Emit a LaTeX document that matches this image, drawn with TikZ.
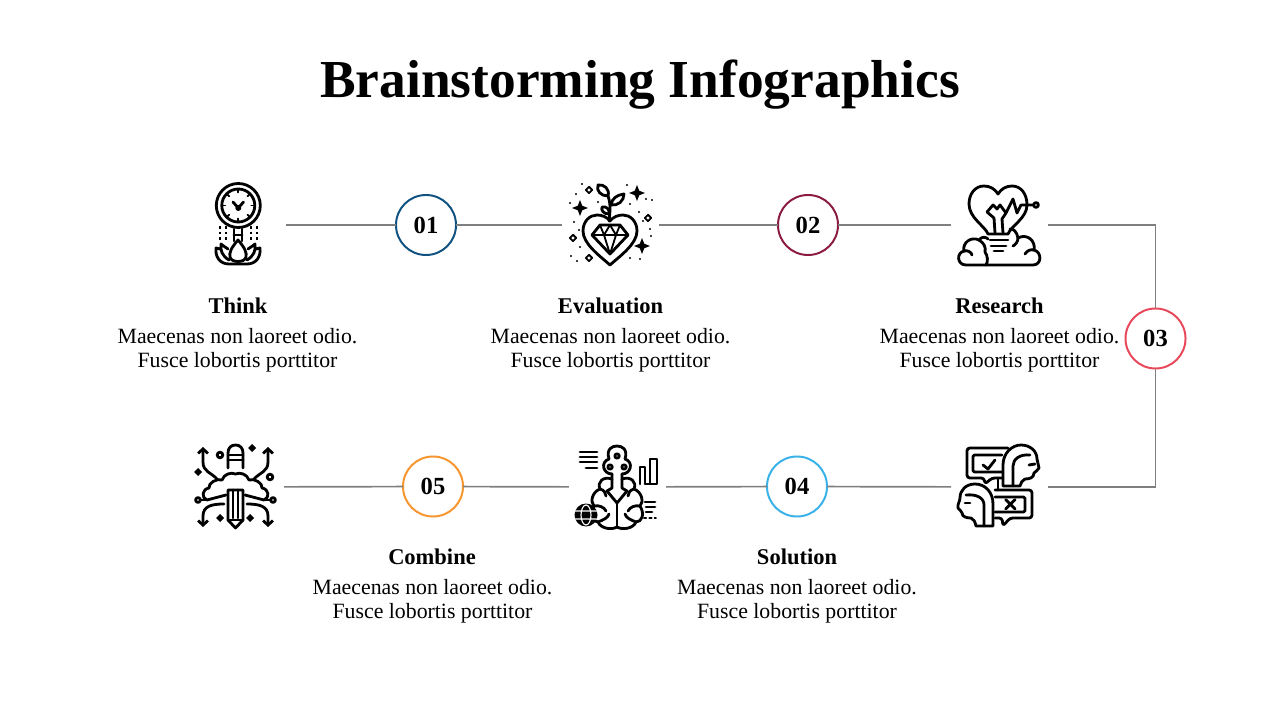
\documentclass[tikz,border=0pt]{standalone}
\usepackage{fontspec}
\setmainfont{Liberation Serif}
\usepackage{xcolor}
\definecolor{stepone}{RGB}{15,82,130}
\definecolor{steptwo}{RGB}{139,26,66}
\definecolor{stepthree}{RGB}{232,72,90}
\definecolor{stepfour}{RGB}{56,178,232}
\definecolor{stepfive}{RGB}{247,150,46}
\definecolor{wire}{RGB}{127,127,127}
\usepackage{tikz}
\usetikzlibrary{arrows.meta}
\newcommand{\sparkle}[3]{\fill[shift={(#1,#2)},scale=#3] (0,-1) -- (.28,-.28) -- (1,0) -- (.28,.28) -- (0,1) -- (-.28,.28) -- (-1,0) -- (-.28,-.28) -- cycle;}

\begin{document}
\begin{tikzpicture}[
        x=0.025cm, y=-0.025cm,
        numnode/.style={circle, draw=#1, line width=1.4pt, fill=white, minimum size=1.5cm, inner sep=0pt, outer sep=0pt, font=\fontsize{17.5}{18}\selectfont\bfseries},
        slot/.style={rectangle, minimum width=2.425cm, minimum height=2.4cm, inner sep=0pt, outer sep=0pt},
        headline/.style={align=center, font=\fontsize{38}{40}\selectfont\bfseries},
        label/.style={align=center, font=\fontsize{16}{18}\selectfont\bfseries},
        body/.style={align=center, font=\fontsize{15.5}{17}\selectfont},
        wired/.style={color=wire, line width=1.2pt},
        icon/.style={draw=black, line width=2pt, line cap=round, line join=round},
        fine/.style={draw=black, line width=1.3pt, line cap=round, line join=round},
        tipped/.style={icon, -{Straight Barb[length=3.2pt,width=7pt]}}
    ]
        \useasboundingbox (0,0) rectangle (1280,720);
        \fill[white] (0,0) rectangle (1280,720);

        \node[headline] (title) at (640,85) {Brainstorming Infographics};

        % icon slots and numbers
        \node[slot] (think) at (237.5,225) {};
        \node[slot] (evaluation) at (610.5,225) {};
        \node[slot] (research) at (999.5,225) {};
        \node[slot] (solution) at (999.5,487) {};
        \node[slot] (brain) at (617.5,487) {};
        \node[slot] (combine) at (235.5,487) {};
        \node[numnode=stepone] (n1) at (426,225) {01};
        \node[numnode=steptwo] (n2) at (808,225) {02};
        \node[numnode=stepthree] (n3) at (1155.5,338.5) {03};
        \node[numnode=stepfour] (n4) at (797,486.5) {04};
        \node[numnode=stepfive] (n5) at (433,486.5) {05};

        \draw[wired] (think) -- (n1);
        \draw[wired] (n1) -- (evaluation);
        \draw[wired] (evaluation) -- (n2);
        \draw[wired] (n2) -- (research);
        \draw[wired] (research) -| (n3);
        \draw[wired] (n3) |- (solution);
        \draw[wired] (solution) -- (n4);
        \draw[wired] (n4) -- (brain);
        \draw[wired] (brain) -- (n5);
        \draw[wired] (n5) -- (combine);

        % texts
        \node[label] (l1) at (238,305.5) {Think};
        \node[body] (b1) at (237.5,350.5) {Maecenas non laoreet odio.\\Fusce lobortis porttitor};
        \node[label] (l2) at (610.5,305.5) {Evaluation};
        \node[body] (b2) at (610.5,350.5) {Maecenas non laoreet odio.\\Fusce lobortis porttitor};
        \node[label] (l3) at (999.5,305.5) {Research};
        \node[body] (b3) at (999.5,350.5) {Maecenas non laoreet odio.\\Fusce lobortis porttitor};
        \node[label] (l4) at (797,556.5) {Solution};
        \node[body] (b4) at (797,601.5) {Maecenas non laoreet odio.\\Fusce lobortis porttitor};
        \node[label] (l5) at (432,556.5) {Combine};
        \node[body] (b5) at (432.5,601.5) {Maecenas non laoreet odio.\\Fusce lobortis porttitor};

        % clock and lotus
        \draw[icon] (238.3,205.5) circle (22);
        \draw[icon] (238.3,205.5) circle (16.5);
        \foreach \a in {0,45,...,315} \draw[fine] (238.3,205.5) ++(\a:13) -- ++(\a:3);
        \draw[icon] (233,202) -- (238.3,208) -- (243.5,202);
        \fill (238.3,208) circle (3);
        \draw[icon] (234,229) -- (234,241) (242,229) -- (242,241) (234,235) -- (242,235);
        \foreach \x in {220,226,251,257} \draw[draw=black, line width=1.8pt, dash pattern=on 1.8pt off 2.2pt] (\x,226) -- (\x,241);
        \draw[icon] (238,240) .. controls (231,248) and (229,253) .. (230,257) .. controls (231,263) and (245,263) .. (246,257) .. controls (247,253) and (245,248) .. (238,240) -- cycle;
        \draw[icon] (228,249) .. controls (225,247) and (222,245) .. (221,244) .. controls (220,250) and (222,256) .. (229,260);
        \draw[icon] (248,249) .. controls (251,247) and (254,245) .. (255,244) .. controls (256,250) and (254,256) .. (247,260);
        \draw[icon] (220,249) -- (216,248) .. controls (215,257) and (220,264) .. (229,264) -- (247,264) .. controls (256,264) and (261,257) .. (260,248) -- (256,249);

        % heart with gem
        \draw[icon] (610,265) .. controls (600,256) and (583,244) .. (583,231) .. controls (583,221) and (590,215) .. (597,215) .. controls (602,215) and (607,217) .. (610,221) .. controls (613,217) and (618,215) .. (623,215) .. controls (630,215) and (637,221) .. (637,231) .. controls (637,244) and (620,256) .. (610,265) -- cycle;
        \draw[icon] (600,225) -- (620,225) -- (628,235) -- (610,254) -- (592,235) -- cycle;
        \draw[fine] (592,235) -- (628,235) (604,235) -- (610,254) -- (616,235) (600,225) -- (604,235) -- (610,225) -- (616,235) -- (620,225);
        \draw[icon] (609,221) .. controls (610,212) and (611,204) .. (608,196);
        \draw[icon] (608,196) .. controls (601,196) and (596,191) .. (598,185) .. controls (604,184) and (610,189) .. (608,196);
        \draw[icon] (611,205) .. controls (612,198) and (617,195) .. (624,194) .. controls (624,201) and (618,206) .. (611,205);
        \draw[icon] (609,214) .. controls (603,214) and (601,210) .. (602,207) .. controls (606,206) and (610,209) .. (609,214);
        \sparkle{637}{193}{8}
        \sparkle{580}{208}{8}
        \sparkle{642}{246}{8}
        \foreach \x/\y in {589/190,648/218,573/238,589/258}
            \draw[fine] (\x,\y) ++(0,-3.2) -- ++(3.2,3.2) -- ++(-3.2,3.2) -- ++(-3.2,-3.2) -- cycle;
        \foreach \x/\y in {582/184,576/194,570/203,598/202,627/185,646/199,630/204,652/200,639/212,643/221,650/229,574/222,579/230,580/247,571/256,577/261,630/258,640/259,651/236,636/225}
            \fill (\x,\y) circle (1.2);

        % bulb heart over cloud
        \draw[icon] (988,234) .. controls (985,226) and (969,218) .. (969,204) .. controls (969,194) and (975,186) .. (984,186) .. controls (990,186) and (995,189) .. (998,194) .. controls (1001,189) and (1006,186) .. (1012,186) .. controls (1021,186) and (1027,194) .. (1027,205) .. controls (1027,218) and (1011,226) .. (1008,234) -- cycle;
        \draw[icon] (990,240) -- (1008,240) (991,246) -- (1006,246) (994,251) -- (1003,251);
        \draw[icon] (995,233) -- (994,218) -- (987,212) -- (993,205) -- (997,209) -- (1000,205) -- (1006,213) -- (1002,219) -- (1003,233);
        \draw[icon] (1006,213) -- (1013,199) -- (1017,213) -- (1021,205) -- (1033,205);
        \draw[icon] (1036,205) circle (2.4);
        \draw[icon] (986,265) -- (966,265) .. controls (957,265) and (956,253) .. (964,251) .. controls (962,243) and (971,236) .. (979,240) .. controls (982,236) and (986,237) .. (988,239);
        \draw[icon] (979,240) .. controls (984,243) and (986,247) .. (985,252);
        \draw[icon] (964,251) .. controls (968,250) and (971,252) .. (972,255);
        \draw[icon] (985,252) .. controls (988,256) and (988,262) .. (986,265) -- (1033,265) .. controls (1042,265) and (1042,252) .. (1034,250) .. controls (1036,241) and (1027,233) .. (1018,238) .. controls (1017,232) and (1013,228) .. (1010,229);
        \draw[icon] (1018,238) .. controls (1018,242) and (1015,245) .. (1013,246);
        \draw[icon] (1034,250) .. controls (1030,249) and (1027,251) .. (1025,254);

        % two heads talking
        \draw[icon, rounded corners=2pt] (1008,448) -- (967,448) -- (967,478) -- (984,478) -- (985,484) -- (992,478) -- (1003,478);
        \draw[icon, rounded corners=1pt] (1002,455) -- (973,455) -- (973,472) -- (1002,472);
        \draw[icon] (983,465) -- (988,469) -- (995,460);
        \draw[icon] (1003,486) -- (1003,465) .. controls (1003,453) and (1012,445) .. (1021,445) .. controls (1030,445) and (1037,451) .. (1037,459) .. controls (1037,462) and (1039,465) .. (1039,468) .. controls (1038,471) and (1035,471) .. (1034,473) .. controls (1034,478) and (1029,479) .. (1025,479) .. controls (1022,480) and (1021,483) .. (1020,486) -- cycle;
        \draw[icon] (1013,486) -- (1013,466) .. controls (1013,459) and (1020,454) .. (1030,455);
        \draw[icon] (1029,465) -- (1035,464);
        \draw[icon] (998,478) -- (998,490);
        \draw[icon, rounded corners=2pt] (995,490) -- (1032,490) -- (1032,518) -- (1010,518) -- (1003,526) -- (1002,518) -- (995,518);
        \draw[icon, rounded corners=1pt] (995,497) -- (1025,497) -- (1025,512) -- (995,512);
        \draw[icon] (1005.5,499.5) -- (1015,509) (1015,499.5) -- (1005.5,509);
        \draw[icon] (993,526) -- (993,504) .. controls (993,492) and (985,484) .. (975,484) .. controls (966,484) and (960,490) .. (960,498) .. controls (960,501) and (957,505) .. (958,508) .. controls (959,510) and (962,511) .. (962,513) .. controls (962,517) and (967,518) .. (971,518) .. controls (974,519) and (975,522) .. (976,526) -- cycle;
        \draw[icon] (984,526) -- (984,505) .. controls (984,498) and (977,494) .. (966,495);
        \draw[icon] (965,503) -- (970,503);

        % brain with key
        \foreach \y/\a/\b in {452/580/597,457/580/597,462/580/597,468/586/597} \draw[icon] (\a,\y) -- (\b,\y);
        \draw[icon] (612,474) .. controls (603,474) and (600,462) .. (609,459) .. controls (606,449) and (612,446) .. (617,446) .. controls (622,446) and (628,449) .. (625,459) .. controls (634,462) and (631,474) .. (622,474);
        \draw[icon] (617,456) circle (2.2) (610,467) circle (2.2) (624,467) circle (2.2);
        \draw[icon] (612,474) -- (612,488) -- (607,491) -- (612,497) -- (617,503) -- (622,497) -- (627,491) -- (622,488) -- (622,474);
        \draw[icon] (617,503) -- (617,527);
        \draw[icon] (612,479) .. controls (603,476) and (597,482) .. (600,489) .. controls (592,492) and (590,502) .. (594,506) .. controls (589,514) and (592,522) .. (598,522) .. controls (601,529) and (612,530) .. (617,527) .. controls (622,530) and (633,529) .. (636,522) .. controls (642,522) and (645,514) .. (640,506) .. controls (644,502) and (642,492) .. (634,489) .. controls (637,482) and (631,476) .. (622,479);
        \draw[icon] (600,489) .. controls (604,490) and (606,493) .. (606,496);
        \draw[icon] (634,489) .. controls (630,490) and (628,493) .. (628,496);
        \draw[icon] (594,506) .. controls (599,505) and (604,507) .. (606,511);
        \draw[icon] (640,506) .. controls (635,505) and (630,507) .. (628,511);
        \draw[icon] (598,522) .. controls (603,520) and (608,518) .. (609,514);
        \draw[icon] (636,522) .. controls (631,520) and (626,518) .. (625,514);
        \draw[icon] (640,484) -- (640,467) -- (645,467) -- (645,484) -- (650,484) -- (650,459) -- (657,459) -- (657,484) -- (645,484);
        \draw[icon] (645,502) -- (655,502) (646,507) -- (655,507) (646,512) -- (652,512);
        \draw[fine, dash pattern=on 1.6pt off 2.2pt] (644,518) -- (656,518);
        \fill[black] (586,515) circle (11.5);
        \draw[white, line width=.8pt] (586,515) ellipse (5 and 10) (575,511) -- (597,511) (575,519) -- (597,519);

        % brain with pencil and arrows
        \draw[icon] (228,468) -- (228,453) .. controls (228,448) and (231,445) .. (235.5,445) .. controls (240,445) and (243,448) .. (243,453) -- (243,468);
        \draw[icon] (228,455) -- (243,455) (228,460) -- (243,460);
        \draw[icon] (226,495) -- (207,500) .. controls (201,498) and (202,489) .. (209,488) .. controls (208,483) and (217,478) .. (222,480) .. controls (224,474) and (231,472) .. (235.5,474) .. controls (240,472) and (247,474) .. (249,480) .. controls (254,478) and (263,483) .. (262,488) .. controls (269,489) and (270,498) .. (264,500) -- (245,495);
        \draw[icon] (228,490) -- (243,490) -- (243,520) -- (235.5,528) -- (228,520) -- cycle;
        \draw[icon] (233,490) -- (233,518) (238,490) -- (238,518) (228,520) -- (243,520);
        \draw[tipped] (218,480) .. controls (211,472) and (203,472) .. (203,462) -- (203,447);
        \draw[tipped] (253,480) .. controls (260,472) and (268,472) .. (268,462) -- (268,447);
        \draw[tipped] (224,504) .. controls (212,504) and (203,506) .. (203,516) -- (203,527);
        \draw[tipped] (247,504) .. controls (259,504) and (268,506) .. (268,516) -- (268,527);
        \draw[icon] (198,500) circle (2.4) (273,500) circle (2.4) (220,455) circle (2.8) (270,477) circle (2.8);
        \draw[icon] (200.5,500) -- (207,500) (270.5,500) -- (264,500);
        \foreach \x/\y in {252/448,198/472,220/518,250/518}
            \fill (\x,\y) ++(0,-4) -- ++(4,4) -- ++(-4,4) -- ++(-4,-4) -- cycle;
    \end{tikzpicture}
\end{document}
